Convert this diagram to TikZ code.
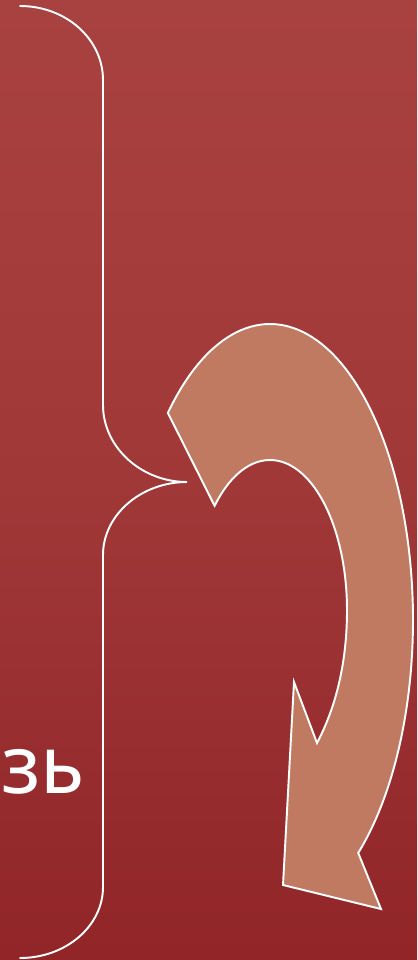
\documentclass[tikz,border=0pt]{standalone}
\usepackage{fontspec}
\newfontfamily\cyrfont{Noto Sans}
\definecolor{bgtop}{RGB}{168,66,64}
\definecolor{bgmid}{RGB}{160,56,56}
\definecolor{bgbot}{RGB}{145,37,40}
\definecolor{arrowfill}{RGB}{192,122,97}
\tikzset{
  braceline/.style={draw=white, line width=1.1pt, line cap=round},
  arrowshape/.style={draw=white, fill=arrowfill, line width=1.1pt, line join=miter},
  bigtext/.style={font=\cyrfont\fontsize{46}{48}\selectfont, text=white, inner sep=0pt}
}
\begin{document}
\begin{tikzpicture}[x=0.02cm,y=-0.02cm]
\useasboundingbox (0,0) rectangle (417,960);
\shade[top color=bgtop, bottom color=bgbot, middle color=bgmid] (0,0) rectangle (417,960);
% brace
\draw[braceline] (20,6) .. controls (66,6) and (103,39) .. (103,80)
  -- (103,405) .. controls (103,447) and (141,482) .. (187,482)
  .. controls (141,482) and (103,515) .. (103,555)
  -- (103,887) .. controls (103,926) and (66,958) .. (20,958);
% curved arrow
\draw[arrowshape] plot[domain=-135.6:51.9,samples=100] ({270+143*cos(\x)},{620+296*sin(\x)})
  -- (381,909) -- (283,885) -- (294,682) -- (317,743)
  .. controls (337,705) and (347,660) .. (347,610)
  -- plot[domain=0:136,samples=60] ({270+77*cos(\x)},{610-150*sin(\x)}) -- cycle;
% text
\node[bigtext, anchor=base west] (txt) at (1,793) {зь};
\end{tikzpicture}
\end{document}
